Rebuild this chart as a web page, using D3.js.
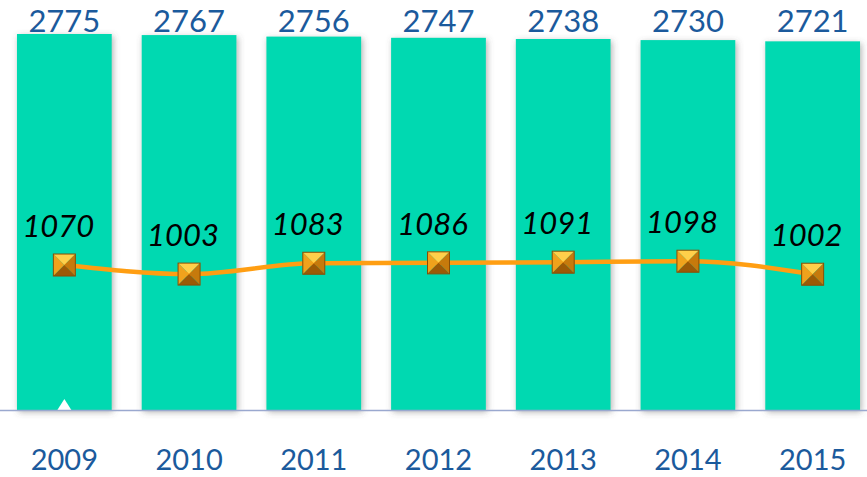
<!DOCTYPE html>
<html>
<head>
<meta charset="utf-8">
<script src="https://cdn.jsdelivr.net/npm/d3@7/dist/d3.min.js"></script>
<style>
  body { margin: 0; background: #fff; }
  svg { display: block; }
</style>
</head>
<body>
<div id="chart"></div>
<script>
    const years = ["2009", "2010", "2011", "2012", "2013", "2014", "2015"];
    const barValues = [2775, 2767, 2756, 2747, 2738, 2730, 2721];
    const lineValues = [1070, 1003, 1083, 1086, 1091, 1098, 1002];

    function create_combo_chart(targetElementId) {
        const width = 867, height = 477;
        const baseY = 410;

        const svg = d3.select(`#${targetElementId}`).append("svg")
            .attr("width", width)
            .attr("height", height);

        const defs = svg.append("defs");
        const f = defs.append("filter").attr("id", "barShadow")
            .attr("x", "-10%").attr("y", "-10%").attr("width", "130%").attr("height", "130%");
        f.append("feDropShadow")
            .attr("dx", 1.5).attr("dy", 2).attr("stdDeviation", 3)
            .attr("flood-color", "#555").attr("flood-opacity", 0.45);

        // scales
        const x = d3.scaleBand()
            .domain(years)
            .range([2, 875])
            .paddingInner(0.24)
            .paddingOuter(0.12);

        const y = d3.scaleLinear()
            .domain([0, 2775])
            .range([baseY, 34]);

        const data = years.map((d, i) => ({ year: d, bar: barValues[i], line: lineValues[i] }));

        // bars
        svg.selectAll(".bar")
            .data(data)
            .enter()
            .append("rect")
                .attr("class", "bar")
                .attr("x", d => x(d.year))
                .attr("y", d => y(d.bar))
                .attr("width", x.bandwidth())
                .attr("height", d => y(0) - y(d.bar))
                .attr("fill", "#00d9b1")
                .attr("filter", "url(#barShadow)");

        // small pointer at bottom of the first bar
        const cx0 = x(years[0]) + x.bandwidth() / 2;
        svg.append("path")
            .attr("d", `M${cx0 - 7},${baseY} L${cx0},${baseY - 11} L${cx0 + 7},${baseY} Z`)
            .attr("fill", "#fff");

        // baseline
        svg.append("line")
            .attr("x1", 0).attr("x2", width)
            .attr("y1", baseY + 0.5).attr("y2", baseY + 0.5)
            .attr("stroke", "#9aa8cf")
            .attr("stroke-width", 1.5);

        // bar labels, all on one row above the tallest bar
        const labelY = y(d3.max(barValues)) - 2;
        svg.selectAll(".barLabel")
            .data(data)
            .enter()
            .append("text")
                .attr("class", "barLabel")
                .attr("x", d => x(d.year) + x.bandwidth() / 2)
                .attr("y", labelY)
                .attr("text-anchor", "middle")
                .style("font-family", "Lato, 'Open Sans', sans-serif")
                .style("font-size", "31px")
                .style("fill", "#1b5a9c")
                .text(d => d.bar);

        // line
        const line = d3.line()
            .x(d => x(d.year) + x.bandwidth() / 2)
            .y(d => y(d.line))
            .curve(d3.curveMonotoneX);

        svg.append("path")
            .datum(data)
            .attr("d", line)
            .attr("fill", "none")
            .attr("stroke", "#ff9e12")
            .attr("stroke-width", 4.5);

        // pyramid markers
        const s = 11;
        const facets = [
            { pts: (cx, cy) => [[cx - s, cy - s], [cx + s, cy - s], [cx, cy]], fill: "#ffcf4a" },
            { pts: (cx, cy) => [[cx - s, cy - s], [cx - s, cy + s], [cx, cy]], fill: "#f0a21c" },
            { pts: (cx, cy) => [[cx + s, cy - s], [cx + s, cy + s], [cx, cy]], fill: "#c67a0c" },
            { pts: (cx, cy) => [[cx - s, cy + s], [cx + s, cy + s], [cx, cy]], fill: "#9c5a06" }
        ];
        const markers = svg.selectAll(".marker")
            .data(data)
            .enter()
            .append("g")
                .attr("class", "marker");
        facets.forEach(fc => {
            markers.append("polygon")
                .attr("points", d => {
                    const cx = x(d.year) + x.bandwidth() / 2, cy = y(d.line);
                    return fc.pts(cx, cy).map(p => p.join(",")).join(" ");
                })
                .attr("fill", fc.fill);
        });
        markers.append("rect")
            .attr("x", d => x(d.year) + x.bandwidth() / 2 - s)
            .attr("y", d => y(d.line) - s)
            .attr("width", 2 * s)
            .attr("height", 2 * s)
            .attr("fill", "none")
            .attr("stroke", "#8a4e05")
            .attr("stroke-width", 1);

        // line labels
        svg.selectAll(".lineLabel")
            .data(data)
            .enter()
            .append("text")
                .attr("class", "lineLabel")
                .attr("x", d => x(d.year) + x.bandwidth() / 2 - 6)
                .attr("y", d => y(d.line) - 28)
                .attr("text-anchor", "middle")
                .style("font-family", "Lato, 'Open Sans', sans-serif")
                .style("font-style", "italic")
                .style("font-size", "31px")
                .style("fill", "#000")
                .text(d => d.line);

        // x-axis labels
        svg.append("g")
            .attr("transform", `translate(0,${baseY})`)
            .call(d3.axisBottom(x).tickSize(0).tickPadding(0))
            .call(g => g.select(".domain").remove())
            .call(g => g.selectAll("text")
                .attr("dy", null)
                .attr("y", 60)
                .style("font-family", "Lato, 'Open Sans', sans-serif")
                .style("font-size", "29px")
                .style("fill", "#1b5a9c"));
    }

    create_combo_chart("chart");
</script>
</body>
</html>
